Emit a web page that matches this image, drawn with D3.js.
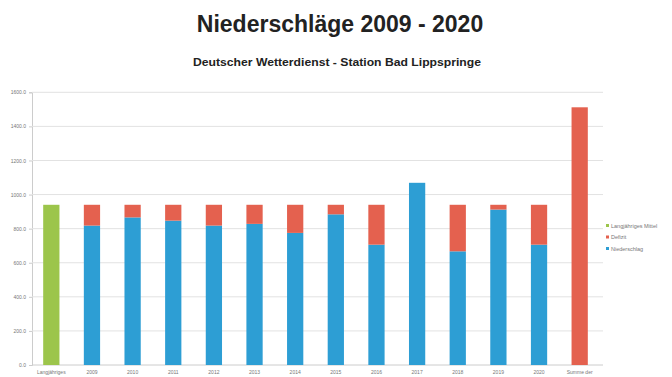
<!DOCTYPE html>
<html><head><meta charset="utf-8">
<script src="https://cdn.jsdelivr.net/npm/d3@7"></script>
<style>body{margin:0;background:#fff;}svg{display:block;}</style>
</head><body>
<svg id="c" width="672" height="377"></svg>
<script>
const categories = ["Langjähriges", "2009", "2010", "2011", "2012", "2013", "2014", "2015", "2016", "2017", "2018", "2019", "2020", "Summe der"];
const mittel =       [940, 0, 0, 0, 0, 0, 0, 0, 0, 0, 0, 0, 0, 0];
const niederschlag = [0, 818, 866, 847, 818, 828, 775, 884, 706, 1069, 667, 912, 706, 0];
const defizit =      [0, 122, 74, 93, 122, 112, 165, 56, 234, 0, 273, 28, 234, 1512];
const yTicks = [0, 200, 400, 600, 800, 1000, 1200, 1400, 1600];
const legendLabels = ["Langjähriges Mittel", "Defizit", "Niederschlag"];
const colors = {mittel: "#9cc54b", defizit: "#e4614f", niederschlag: "#2d9ed4"};

const svg = d3.select("#c");
const x = d3.scaleBand().domain(categories).range([31, 600]).paddingInner(0.6).paddingOuter(0.3);
const y = d3.scaleLinear().domain([0, 1600]).range([365, 92.3]);
const font = "Liberation Sans, Arial, sans-serif";

// title
svg.append("text").attr("x", 340).attr("y", 32).attr("text-anchor", "middle")
  .attr("font-family", font).attr("font-weight", "bold")
  .attr("font-size", 23).attr("fill", "#222").text("Niederschläge 2009 - 2020");
svg.append("text").attr("x", 337).attr("y", 66).attr("text-anchor", "middle")
  .attr("font-family", font).attr("font-weight", "bold")
  .attr("font-size", 11.5).attr("fill", "#222")
  .attr("textLength", 288).attr("lengthAdjust", "spacingAndGlyphs")
  .text("Deutscher Wetterdienst - Station Bad Lippspringe");

// y axis + grid
const gAxis = svg.append("g").attr("transform", "translate(32,0)")
  .call(d3.axisLeft(y).tickValues(yTicks).tickFormat(d => d3.format(".1f")(d)).tickSize(3).tickPadding(3));
gAxis.select(".domain").attr("stroke", "#ccc");
gAxis.selectAll(".tick line").attr("stroke", "#ccc");
gAxis.selectAll(".tick text").attr("fill", "#777").attr("font-size", 5).attr("font-family", font);
svg.append("g").selectAll("line").data(yTicks).join("line")
  .attr("x1", 32).attr("x2", 603).attr("y1", d => y(d)).attr("y2", d => y(d))
  .attr("stroke", d => d === 0 ? "#ccc" : "#e2e2e2").attr("stroke-width", 1);

// bars
const bw = x.bandwidth();
const g = svg.append("g");
categories.forEach((c, i) => {
  if (mittel[i] > 0) g.append("rect").attr("x", x(c)).attr("width", bw)
    .attr("y", y(mittel[i])).attr("height", y(0) - y(mittel[i])).attr("fill", colors.mittel);
  if (niederschlag[i] > 0) g.append("rect").attr("x", x(c)).attr("width", bw)
    .attr("y", y(niederschlag[i])).attr("height", y(0) - y(niederschlag[i])).attr("fill", colors.niederschlag);
  if (defizit[i] > 0) g.append("rect").attr("x", x(c)).attr("width", bw)
    .attr("y", y(niederschlag[i] + defizit[i])).attr("height", y(niederschlag[i]) - y(niederschlag[i] + defizit[i])).attr("fill", colors.defizit);
});

// x labels
const gx = svg.append("g").attr("transform", "translate(0,365)")
  .call(d3.axisBottom(x).tickSize(0).tickPadding(5));
gx.select(".domain").remove();
gx.selectAll(".tick text").attr("fill", "#777").attr("font-size", 5).attr("font-family", font);

// legend
const lg = svg.append("g").attr("transform", "translate(606,226)");
const lc = [colors.mittel, colors.defizit, colors.niederschlag];
legendLabels.forEach((t, i) => {
  lg.append("rect").attr("x", 0).attr("y", i * 11.5 - 2).attr("width", 3).attr("height", 3).attr("fill", lc[i]);
  lg.append("text").attr("x", 5).attr("y", i * 11.5 + 1.8).attr("font-size", 5.5)
    .attr("font-family", font).attr("fill", "#777").text(t);
});
</script>
</body></html>
